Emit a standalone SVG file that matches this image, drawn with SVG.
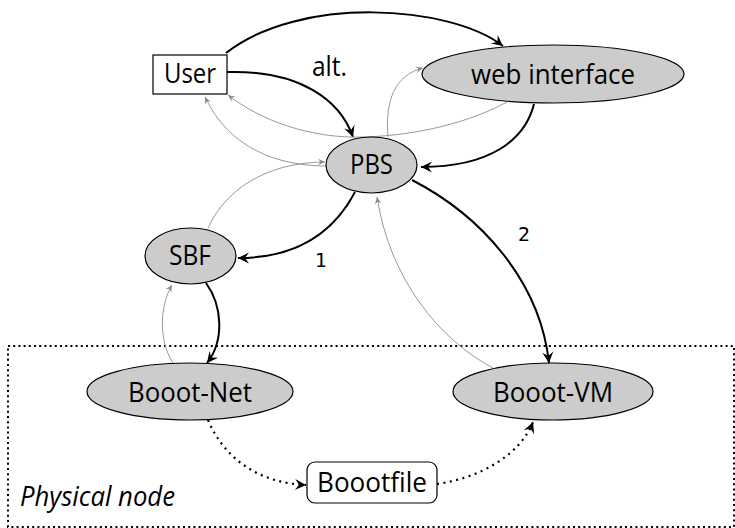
<svg xmlns="http://www.w3.org/2000/svg" width="735" height="528" viewBox="0 0 735 528">
  <style>
    .lbl { font-family: "Open Sans", "Liberation Sans", sans-serif; font-size: 28px; fill: #000; text-anchor: middle; }
    .num { font-family: "DejaVu Sans", sans-serif; font-size: 19px; fill: #000; text-anchor: middle; }
    .ell { fill: #cccccc; stroke: #000; stroke-width: 1.2; }
    .box { fill: #fff; stroke: #000; stroke-width: 1.2; }
    .main { fill: none; stroke: #000; stroke-width: 2; marker-end: url(#headBlack); }
    .back { fill: none; stroke: #999; stroke-width: 1; marker-end: url(#headGray); }
    .local { fill: none; stroke: #000; stroke-width: 2.2; stroke-dasharray: 2 4.5; marker-end: url(#headBlack); }
    .frame { fill: none; stroke: #000; stroke-width: 2; stroke-dasharray: 2 3.2; }
  </style>
  <defs>
    <marker id="headBlack" viewBox="-12 -6 13 12" refX="0" refY="0" markerWidth="13" markerHeight="12" markerUnits="userSpaceOnUse" orient="auto">
      <path d="M0,0 L-11,-5.5 L-7,0 L-11,5.5 Z" fill="#000"/>
    </marker>
    <marker id="headGray" viewBox="-8 -4 9 8" refX="0" refY="0" markerWidth="9" markerHeight="8" markerUnits="userSpaceOnUse" orient="auto">
      <path d="M0,0 L-7,-3.2 L-4.5,0 L-7,3.2 Z" fill="#888"/>
    </marker>
  </defs>

  <!-- physical node boundary -->
  <g id="physical-node">
    <rect class="frame" x="8" y="346" width="726" height="181"/>
    <text x="20" y="506" font-family="'Open Sans', 'Liberation Sans', sans-serif" font-size="27" font-style="italic" textLength="155" lengthAdjust="spacingAndGlyphs">Physical node</text>
  </g>

  <g id="connectors">
    <!-- primary requests -->
    <path class="main" d="M226,53 C300,-5 450,5 503,46"/>
    <path class="main" d="M227,72 C300,70 340,100 353,137"/>
    <path class="main" d="M534,104 C525,140 490,167 421,167"/>
    <path class="main" d="M355,192 C335,230 300,258 238,258"/>
    <path class="main" d="M206,283 C222,305 225,340 207,363"/>
    <path class="main" d="M412,180 C480,215 540,280 549,363"/>
    <!-- status feedback -->
    <path class="back" d="M507,102 C470,122 420,135 365,137 C310,139 260,120 228,95"/>
    <path class="back" d="M327,166 C280,166 230,150 205,97"/>
    <path class="back" d="M208,228 C230,180 280,162 325,162"/>
    <path class="back" d="M388,137 C385,100 395,75 423,68"/>
    <path class="back" d="M493,368 C440,340 390,280 377,197"/>
    <path class="back" d="M173,363 C158,340 160,305 172,285"/>
    <!-- local boot chain -->
    <path class="local" d="M208,420 C225,460 260,483 306,485"/>
    <path class="local" d="M437,484 C480,478 520,455 533,422"/>
    <!-- edge labels -->
    <text class="lbl" x="329.5" y="76" textLength="35" lengthAdjust="spacingAndGlyphs">alt.</text>
    <text class="num" x="321" y="267">1</text>
    <text class="num" x="524" y="241">2</text>
  </g>

  <g id="user">
    <rect class="box" x="153" y="55" width="74" height="39"/>
    <text class="lbl" x="190" y="83" textLength="52" lengthAdjust="spacingAndGlyphs">User</text>
  </g>

  <g id="web-interface">
    <ellipse class="ell" cx="553" cy="74" rx="131" ry="29"/>
    <text class="lbl" x="553" y="84" textLength="164" lengthAdjust="spacingAndGlyphs">web interface</text>
  </g>

  <g id="pbs">
    <ellipse class="ell" cx="371.5" cy="165" rx="45.5" ry="28"/>
    <text class="lbl" x="371.5" y="174" textLength="43" lengthAdjust="spacingAndGlyphs">PBS</text>
  </g>

  <g id="sbf">
    <ellipse class="ell" cx="190.5" cy="256" rx="45.5" ry="28"/>
    <text class="lbl" x="190" y="265" textLength="42" lengthAdjust="spacingAndGlyphs">SBF</text>
  </g>

  <g id="booot-net">
    <ellipse class="ell" cx="190" cy="391.5" rx="103" ry="28.5"/>
    <text class="lbl" x="190" y="402" textLength="124" lengthAdjust="spacingAndGlyphs">Booot-Net</text>
  </g>

  <g id="booot-vm">
    <ellipse class="ell" cx="553" cy="391.5" rx="100" ry="28.5"/>
    <text class="lbl" x="553" y="402" textLength="120" lengthAdjust="spacingAndGlyphs">Booot-VM</text>
  </g>

  <g id="boootfile">
    <rect class="box" x="307" y="462" width="130" height="41" rx="8" ry="8"/>
    <text class="lbl" x="372" y="492" textLength="110" lengthAdjust="spacingAndGlyphs">Boootfile</text>
  </g>
</svg>
